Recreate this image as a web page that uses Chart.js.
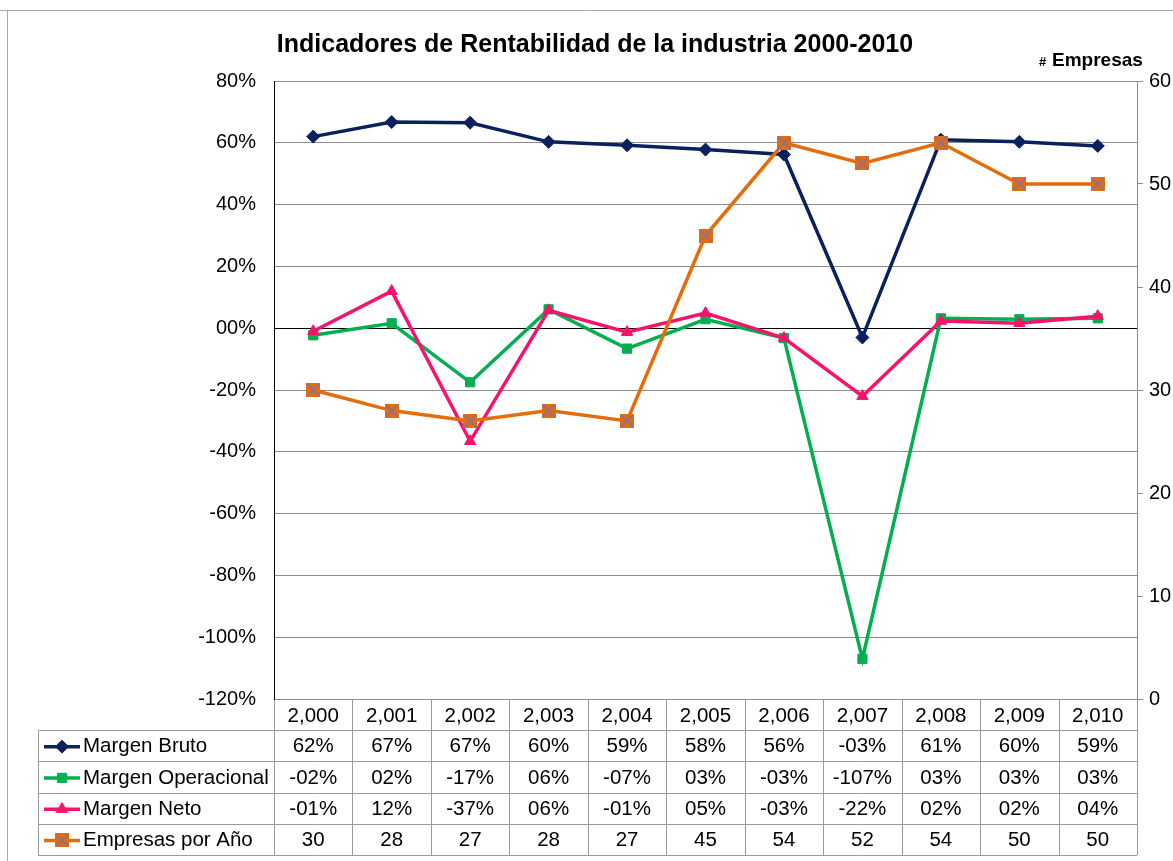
<!DOCTYPE html>
<html>
<head>
<meta charset="utf-8">
<script src="https://cdn.jsdelivr.net/npm/chart.js@4.4.1/dist/chart.umd.min.js"></script>
<style>
  html, body { margin: 0; padding: 0; background: #fff; }
  #wrap { width: 1173px; height: 861px; position: relative; }
</style>
</head>
<body>
<div id="wrap"><canvas id="rentChart"></canvas></div>
<script>
const years = [2000, 2001, 2002, 2003, 2004, 2005, 2006, 2007, 2008, 2009, 2010];
const margenBruto = [62, 66.7, 66.5, 60.3, 59.2, 57.8, 56.2, -3, 61, 60.3, 59];
const margenOperacional = [-2.3, 1.6, -17.5, 6.1, -6.6, 2.9, -3.2, -107, 3.2, 2.9, 3.2];
const margenNeto = [-1, 12, -36.6, 5.8, -1.3, 4.9, -3.2, -22, 2.3, 1.6, 3.9];
const empresas = [30, 28, 27, 28, 27, 45, 54, 52, 54, 50, 50];

const FONT = "'Liberation Sans', Arial, sans-serif";
const colors = {
  bruto: '#0b215e',
  operacional: '#00b050',
  neto: '#f7136d',
  empresas: '#e46c0a',
  cross: '#7b72b0',
  grid: '#8c8c8c',
  table: '#9a9a9a'
};

// "-02%" style used by the source spreadsheet
function pct(v) {
  const r = Math.round(v);
  const s = String(Math.abs(r)).padStart(2, '0');
  return (r < 0 ? '-' : '') + s + '%';
}

// orange square with an X, like the Excel marker
function crossSquare(size) {
  const c = document.createElement('canvas');
  c.width = size; c.height = size;
  const g = c.getContext('2d');
  g.fillStyle = colors.empresas;
  g.fillRect(0, 0, size, size);
  g.strokeStyle = colors.cross;
  g.lineWidth = 1.5;
  g.beginPath();
  g.moveTo(1, 1); g.lineTo(size - 1, size - 1);
  g.moveTo(size - 1, 1); g.lineTo(1, size - 1);
  g.stroke();
  return c;
}
const empMarker = crossSquare(14);

const series = [
  { label: 'Margen Bruto', data: margenBruto, color: colors.bruto, style: 'rectRot', axis: 'y', fmt: pct },
  { label: 'Margen Operacional', data: margenOperacional, color: colors.operacional, style: 'rect', axis: 'y', fmt: pct },
  { label: 'Margen Neto', data: margenNeto, color: colors.neto, style: 'triangle', axis: 'y', fmt: pct },
  { label: 'Empresas por Año', data: empresas, color: colors.empresas, style: empMarker, axis: 'y1', fmt: v => String(v) }
];

const tablePlugin = {
  id: 'dataTable',
  afterDraw(chart) {
    const ctx = chart.ctx;
    const area = chart.chartArea;
    const xs = chart.scales.x;
    const colW = (area.right - area.left) / years.length;
    const headTop = area.bottom + 1;
    const headH = 30;
    const rowH = 31.25;
    const legLeft = 38;
    const bottom = headTop + headH + rowH * series.length;

    ctx.save();
    // outer frame of the chart object
    ctx.strokeStyle = '#a6a6a6';
    ctx.lineWidth = 1;
    ctx.beginPath();
    ctx.moveTo(0, 10.5); ctx.lineTo(1173, 10.5);
    ctx.moveTo(7.5, 10); ctx.lineTo(7.5, 861);
    ctx.stroke();

    // title
    ctx.fillStyle = '#000';
    ctx.font = 'bold 25px ' + FONT;
    ctx.textAlign = 'center';
    ctx.textBaseline = 'alphabetic';
    ctx.fillText('Indicadores de Rentabilidad de la industria 2000-2010', 595, 52);
    ctx.textAlign = 'left';
    ctx.font = 'bold 13px ' + FONT;
    ctx.fillText('#', 1039, 66);
    ctx.font = 'bold 19px ' + FONT;
    ctx.fillText('Empresas', 1052, 66);

    // grid of the table
    ctx.strokeStyle = colors.table;
    ctx.beginPath();
    for (let i = 0; i <= years.length; i++) {
      const x = Math.round(area.left + i * colW) + 0.5;
      ctx.moveTo(x, headTop); ctx.lineTo(x, bottom);
    }
    ctx.moveTo(legLeft + 0.5, headTop + headH); ctx.lineTo(legLeft + 0.5, bottom);
    for (let r = 0; r <= series.length; r++) {
      const y = Math.round(headTop + headH + r * rowH) + 0.5;
      ctx.moveTo(legLeft, y); ctx.lineTo(area.right, y);
    }
    ctx.stroke();

    // header
    ctx.fillStyle = '#000';
    ctx.font = '20.5px ' + FONT;
    ctx.textAlign = 'center';
    ctx.textBaseline = 'middle';
    years.forEach((yr, i) => {
      ctx.fillText(yr.toLocaleString('en-US'), xs.getPixelForValue(i), headTop + headH / 2 + 1);
    });

    // rows
    series.forEach((s, r) => {
      const cy = headTop + headH + r * rowH + rowH / 2 + 1;
      ctx.strokeStyle = s.color;
      ctx.lineWidth = 3.5;
      ctx.beginPath();
      ctx.moveTo(44, cy); ctx.lineTo(80, cy);
      ctx.stroke();
      if (s.style instanceof HTMLCanvasElement) {
        ctx.drawImage(s.style, 62 - 7, cy - 7);
      } else {
        ctx.fillStyle = s.color;
        ctx.lineWidth = 1;
        Chart.helpers.drawPoint(ctx, { pointStyle: s.style, radius: 6.5, rotation: 0, borderWidth: 1 }, 62, cy);
      }
      ctx.fillStyle = '#000';
      ctx.textAlign = 'left';
      ctx.fillText(s.label, 83, cy);
      ctx.textAlign = 'center';
      s.data.forEach((v, i) => {
        ctx.fillText(s.fmt(v), xs.getPixelForValue(i), cy);
      });
    });
    ctx.restore();
  }
};

new Chart(document.getElementById('rentChart'), {
  type: 'line',
  data: {
    labels: years.map(y => y.toLocaleString('en-US')),
    datasets: series.map((s, i) => ({
      label: s.label,
      data: s.data,
      yAxisID: s.axis,
      order: series.length - i,
      borderColor: s.color,
      backgroundColor: s.color,
      borderWidth: 3.5,
      pointStyle: s.style,
      pointRadius: 6.5,
      pointHoverRadius: 6.5,
      pointBorderWidth: 1,
      tension: 0
    }))
  },
  options: {
    responsive: true,
    maintainAspectRatio: false,
    animation: false,
    layout: { padding: { top: 81, bottom: 162, left: 0, right: 0 } },
    plugins: {
      legend: { display: false },
      title: { display: false },
      tooltip: { enabled: false }
    },
    scales: {
      x: {
        display: false,
        offset: true
      },
      y: {
        position: 'left',
        min: -120,
        max: 80,
        afterFit: scale => { scale.width = 274; },
        ticks: {
          stepSize: 20,
          padding: 18,
          color: '#000',
          font: { family: FONT, size: 20 },
          callback: v => pct(v)
        },
        grid: {
          drawTicks: false,
          color: ctx => ctx.tick && ctx.tick.value === 0 ? '#000' : colors.grid,
          lineWidth: 1
        },
        border: { color: '#000' }
      },
      y1: {
        position: 'right',
        min: 0,
        max: 60,
        afterFit: scale => { scale.width = 36; },
        ticks: {
          stepSize: 10,
          padding: 6,
          color: '#000',
          font: { family: FONT, size: 20 }
        },
        grid: {
          drawOnChartArea: false,
          drawTicks: true,
          tickLength: 6,
          color: colors.grid
        },
        border: { color: colors.grid }
      }
    }
  },
  plugins: [tablePlugin]
});
</script>
</body>
</html>
